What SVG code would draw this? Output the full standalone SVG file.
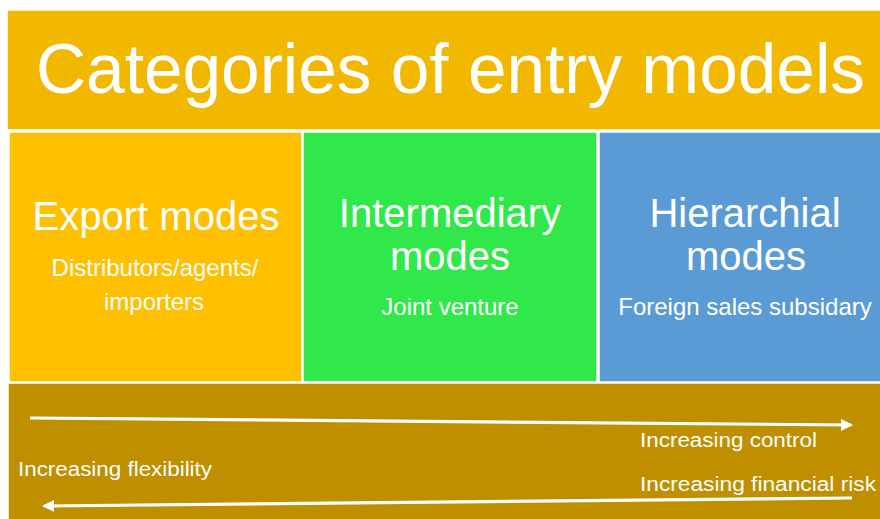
<svg xmlns="http://www.w3.org/2000/svg" width="880" height="519" viewBox="0 0 880 519">
  <style>
    .band { stroke: #FFFFFF; stroke-width: 1.5; }
    .txt { font-family: "Liberation Sans", Arial, sans-serif; fill: #FFFFFF; }
    .head { font-size: 40px; text-anchor: middle; }
    .sub { font-size: 24px; text-anchor: middle; }
    .axis { font-size: 20px; }
    .arrow { stroke: #FFFFFF; stroke-width: 3.2; fill: none; }
  </style>
  <defs>
    <marker id="tip" viewBox="0 0 12 12" refX="10" refY="6" markerWidth="12" markerHeight="12" markerUnits="userSpaceOnUse" orient="auto">
      <path d="M0,0 L12,6 L0,12 Z" fill="#FFFFFF"/>
    </marker>
  </defs>

  <rect x="0" y="0" width="880" height="519" fill="#FFFFFF"/>

  <!-- title band -->
  <g id="title">
    <rect class="band" x="7" y="10" width="880" height="120" fill="#F2B800"/>
    <text class="txt" x="36" y="93" font-size="70" textLength="829" lengthAdjust="spacingAndGlyphs">Categories of entry models</text>
  </g>

  <!-- export modes -->
  <g id="export">
    <rect class="band" x="9" y="132" width="293" height="250" fill="#FFC000"/>
    <text class="txt head" x="156" y="230">Export modes</text>
    <text class="txt sub" x="155" y="276">Distributors/agents/</text>
    <text class="txt sub" x="154" y="310">importers</text>
  </g>

  <!-- intermediary modes -->
  <g id="intermediary">
    <rect class="band" x="303" y="132" width="294" height="250" fill="#30E84A"/>
    <text class="txt head" x="450" y="227">Intermediary</text>
    <text class="txt head" x="450" y="270">modes</text>
    <text class="txt sub" x="450" y="315">Joint venture</text>
  </g>

  <!-- hierarchial modes -->
  <g id="hierarchial">
    <rect class="band" x="599" y="132" width="290" height="250" fill="#5B9BD5"/>
    <text class="txt head" x="745" y="227">Hierarchial</text>
    <text class="txt head" x="746" y="270">modes</text>
    <text class="txt sub" x="745" y="315">Foreign sales subsidary</text>
  </g>

  <!-- scale band -->
  <g id="scale">
    <rect class="band" x="8" y="383" width="880" height="140" fill="#BF8F00"/>
    <text class="txt axis" x="640" y="447" textLength="177" lengthAdjust="spacingAndGlyphs">Increasing control</text>
    <text class="txt axis" x="18" y="476" textLength="194" lengthAdjust="spacingAndGlyphs">Increasing flexibility</text>
    <text class="txt axis" x="640" y="491" textLength="236" lengthAdjust="spacingAndGlyphs">Increasing financial risk</text>
  </g>

  <!-- connectors -->
  <g id="connectors">
    <line class="arrow" x1="30" y1="418" x2="851" y2="425" marker-end="url(#tip)"/>
    <line class="arrow" x1="852" y1="498" x2="44" y2="506" marker-end="url(#tip)"/>
  </g>
</svg>
